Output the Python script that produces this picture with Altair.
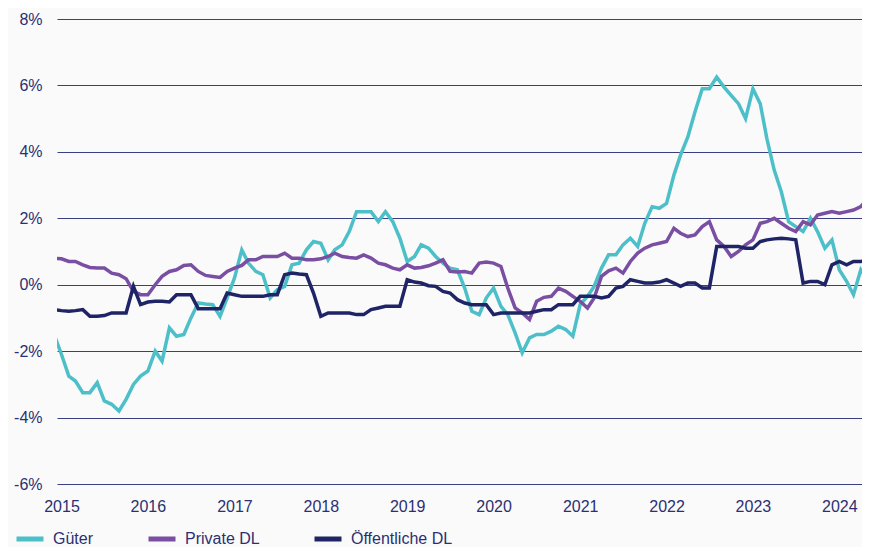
import altair as alt
import pandas as pd

# Monthly year-on-year rates in %, Dec 2014 .. May 2024
guter = [
    -1.5,
    -2.1, -2.75, -2.9, -3.25, -3.25, -2.95, -3.5, -3.6, -3.8, -3.45, -3.0, -2.75,
    -2.6, -2.0, -2.3, -1.3, -1.55, -1.5, -1.0, -0.55, -0.58, -0.6, -0.95, -0.4,
    0.2, 1.05, 0.65, 0.4, 0.3, -0.4, -0.15, -0.05, 0.6, 0.65, 1.05, 1.3,
    1.25, 0.75, 1.05, 1.2, 1.6, 2.2, 2.2, 2.2, 1.9, 2.2, 1.9, 1.4,
    0.7, 0.85, 1.2, 1.1, 0.85, 0.65, 0.5, 0.45, -0.1, -0.8, -0.9, -0.4,
    -0.1, -0.65, -0.9, -1.45, -2.05, -1.6, -1.5, -1.5, -1.4, -1.25, -1.35, -1.55,
    -0.6, -0.35, -0.05, 0.5, 0.9, 0.9, 1.2, 1.4, 1.15, 1.85, 2.35, 2.3,
    2.45, 3.3, 3.9, 4.45, 5.2, 5.9, 5.9, 6.25, 5.95, 5.7, 5.45, 5.0,
    5.9, 5.45, 4.4, 3.45, 2.8, 1.9, 1.75, 1.6, 2.0, 1.6, 1.1, 1.35,
    0.45, 0.1, -0.3, 0.45, 0.15,
]
private_dl = [
    0.8,
    0.78, 0.7, 0.7, 0.6, 0.52, 0.5, 0.5, 0.35, 0.3, 0.18, -0.2, -0.3,
    -0.3, 0.0, 0.25, 0.4, 0.45, 0.58, 0.6, 0.4, 0.28, 0.25, 0.22, 0.4,
    0.5, 0.58, 0.75, 0.75, 0.85, 0.85, 0.85, 0.95, 0.8, 0.8, 0.75, 0.75,
    0.78, 0.85, 0.95, 0.85, 0.82, 0.8, 0.9, 0.8, 0.65, 0.6, 0.5, 0.45,
    0.6, 0.5, 0.52, 0.57, 0.65, 0.75, 0.4, 0.38, 0.4, 0.35, 0.65, 0.68,
    0.65, 0.55, -0.1, -0.7, -0.85, -1.05, -0.5, -0.38, -0.35, -0.1, -0.2, -0.35,
    -0.5, -0.7, -0.4, 0.25, 0.42, 0.5, 0.35, 0.7, 0.95, 1.1, 1.2, 1.25,
    1.3, 1.7, 1.55, 1.45, 1.5, 1.75, 1.9, 1.35, 1.15, 0.85, 1.0, 1.2,
    1.35, 1.85, 1.9, 2.0, 1.85, 1.7, 1.6, 1.9, 1.8, 2.1, 2.15, 2.2,
    2.15, 2.2, 2.25, 2.35, 2.6,
]
oeffentliche_dl = [
    -0.75,
    -0.78, -0.8, -0.78, -0.75, -0.95, -0.95, -0.93, -0.85, -0.85, -0.85, -0.05, -0.6,
    -0.52, -0.5, -0.5, -0.52, -0.3, -0.3, -0.3, -0.72, -0.72, -0.72, -0.72, -0.25,
    -0.3, -0.35, -0.35, -0.35, -0.35, -0.3, -0.3, 0.3, 0.35, 0.32, 0.3, -0.25,
    -0.95, -0.85, -0.85, -0.85, -0.85, -0.9, -0.9, -0.75, -0.7, -0.65, -0.65, -0.65,
    0.15, 0.08, 0.05, -0.03, -0.05, -0.2, -0.25, -0.45, -0.55, -0.6, -0.6, -0.6,
    -0.9, -0.85, -0.85, -0.85, -0.85, -0.85, -0.8, -0.75, -0.75, -0.6, -0.6, -0.6,
    -0.35, -0.35, -0.35, -0.4, -0.35, -0.1, -0.05, 0.15, 0.1, 0.05, 0.05, 0.08,
    0.15, 0.05, -0.05, 0.05, 0.05, -0.1, -0.1, 1.15, 1.15, 1.15, 1.15, 1.1,
    1.1, 1.3, 1.35, 1.38, 1.4, 1.38, 1.35, 0.05, 0.1, 0.1, 0.0, 0.6,
    0.7, 0.6, 0.7, 0.7, 0.75,
]
series_names = ["Güter", "Private DL", "Öffentliche DL"]
series_colors = ["#4dbfc8", "#7a4fa3", "#1f2466"]
year_ticks = list(range(2015, 2025))
y_ticks = [-6, -4, -2, 0, 2, 4, 6, 8]

months = pd.date_range("2014-12-01", periods=len(guter), freq="MS").strftime("%Y/%m/%d").tolist()
rows = []
for name, vals in zip(series_names, [guter, private_dl, oeffentliche_dl]):
    for d, v in zip(months, vals):
        rows.append({"date": d, "value": v, "series": name})
df = pd.DataFrame(rows)

FONT = "Liberation Sans"
TEXT = "#2b3072"

chart = (
    alt.Chart(df)
    .mark_line(strokeWidth=3.5, clip=True)
    .encode(
        x=alt.X(
            "date:T",
            scale=alt.Scale(
                domain=[alt.DateTime(year=2014, month=12, date=13),
                        alt.DateTime(year=2024, month=4, date=6)]
            ),
            axis=alt.Axis(
                values=[alt.DateTime(year=y, month=1, date=1) for y in year_ticks],
                format="%Y",
                grid=False,
                domain=False,
                ticks=False,
                labelPadding=14,
                labelFontSize=16,
                labelFont=FONT,
                labelColor=TEXT,
                title=None,
            ),
        ),
        y=alt.Y(
            "value:Q",
            scale=alt.Scale(domain=[-6, 8], nice=False, zero=False),
            axis=alt.Axis(
                values=y_ticks,
                labelExpr="datum.value + '%'",
                grid=True,
                gridColor="#3a3f82",
                gridWidth=1,
                domain=False,
                ticks=False,
                labelPadding=15,
                labelFontSize=16,
                labelFont=FONT,
                labelColor=TEXT,
                title=None,
            ),
        ),
        color=alt.Color(
            "series:N",
            sort=series_names,
            scale=alt.Scale(domain=series_names, range=series_colors),
            legend=alt.Legend(
                orient="none",
                legendX=-43,
                legendY=504,
                direction="horizontal",
                title=None,
                symbolType="stroke",
                symbolSize=729,
                symbolStrokeWidth=5,
                labelFontSize=16,
                labelFont=FONT,
                labelColor=TEXT,
                labelOffset=7,
                columnPadding=44,
                padding=0,
            ),
        ),
    )
    .properties(
        width=805,
        height=465,
        autosize=alt.AutoSizeParams(type="none"),
        padding={"left": 49, "top": 11, "right": 0, "bottom": 63},
        background="#fafafa",
    )
    .configure_view(stroke=None)
)

chart.save("out.html", embed_options={"renderer": "svg", "actions": False})
